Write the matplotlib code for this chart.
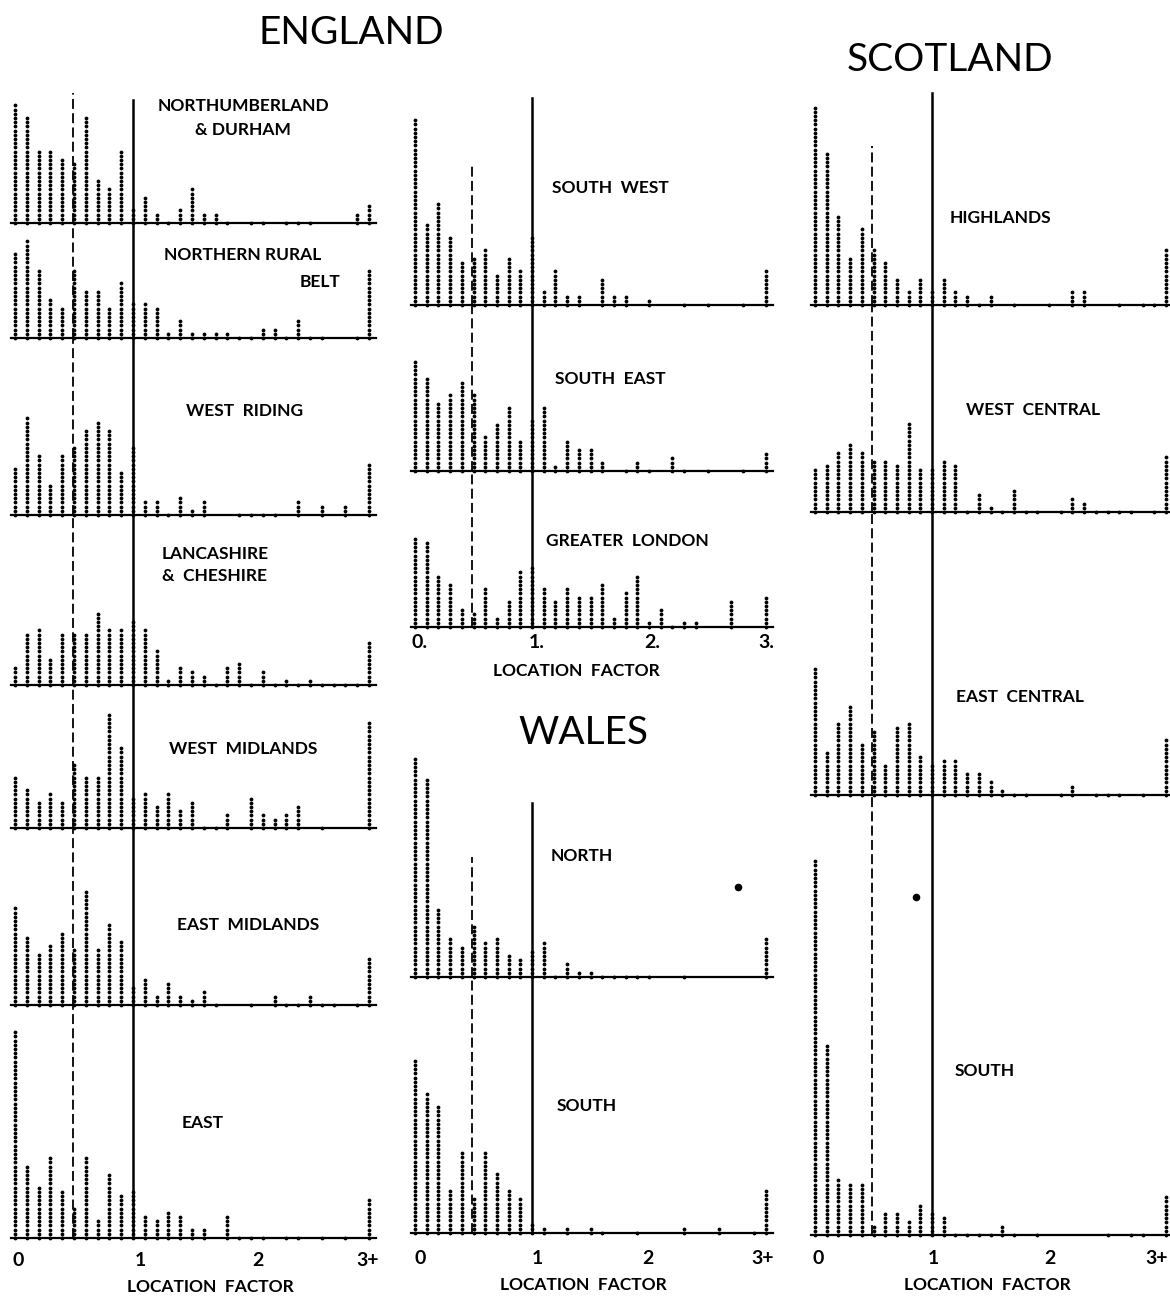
import matplotlib
matplotlib.use("Agg")
import matplotlib.pyplot as plt

# ---- dot counts per location-factor bin: 0.0, 0.1, ... 2.9, then 3+ ----
northumberland_durham = [29, 26, 18, 18, 16, 15, 26, 11, 9, 18, 4, 7, 3, 1, 4, 9, 3, 3, 1, 0,
                         1, 1, 0, 1, 1, 1, 0, 0, 0, 3, 5]
northern_rural_belt = [21, 24, 17, 10, 8, 17, 12, 12, 8, 14, 9, 9, 8, 2, 5, 2, 2, 2, 2, 1,
                       1, 3, 3, 1, 5, 1, 1, 0, 0, 1, 17]
west_riding = [12, 24, 15, 8, 15, 17, 21, 23, 21, 11, 17, 4, 4, 1, 5, 2, 4, 0, 0, 1,
               1, 1, 1, 0, 4, 0, 3, 0, 3, 0, 13]
lancs_cheshire = [5, 13, 14, 7, 13, 13, 13, 18, 14, 14, 16, 14, 9, 2, 5, 4, 3, 1, 5, 6,
                  1, 4, 1, 2, 1, 2, 1, 1, 1, 1, 11]
west_midlands = [13, 10, 7, 9, 7, 16, 13, 13, 28, 20, 8, 9, 6, 9, 5, 7, 1, 1, 4, 0,
                 8, 4, 3, 4, 6, 0, 1, 0, 0, 0, 26]
east_midlands = [24, 17, 13, 15, 18, 14, 28, 14, 20, 16, 5, 7, 3, 6, 3, 2, 4, 1, 0, 0,
                 1, 0, 3, 1, 1, 3, 1, 1, 0, 1, 12]
east = [50, 18, 13, 20, 12, 8, 20, 5, 16, 11, 12, 6, 5, 7, 6, 3, 3, 0, 6, 1,
        1, 1, 0, 1, 1, 0, 1, 0, 1, 0, 10]

south_west = [45, 20, 25, 17, 11, 12, 14, 8, 12, 9, 17, 4, 9, 3, 3, 0, 7, 3, 3, 0,
              2, 0, 0, 1, 0, 1, 0, 0, 1, 0, 9]
south_east = [27, 23, 17, 19, 22, 19, 9, 12, 16, 8, 13, 16, 2, 8, 6, 6, 3, 0, 1, 3,
              1, 0, 4, 1, 0, 1, 0, 0, 1, 0, 5]
greater_london = [22, 21, 13, 11, 5, 4, 10, 3, 7, 14, 15, 10, 7, 10, 8, 8, 11, 3, 9, 13,
                  2, 5, 1, 2, 2, 0, 0, 7, 0, 0, 8]

wales_north = [53, 48, 17, 10, 8, 13, 9, 10, 6, 5, 7, 9, 1, 4, 2, 2, 1, 1, 1, 1,
               1, 0, 0, 1, 0, 0, 0, 0, 0, 0, 10]
wales_south = [42, 34, 31, 11, 20, 9, 20, 15, 11, 9, 3, 2, 0, 2, 0, 2, 1, 0, 0, 1,
               0, 0, 0, 2, 0, 0, 2, 0, 0, 1, 11]

highlands = [48, 37, 22, 12, 19, 14, 11, 7, 4, 7, 4, 7, 4, 3, 1, 3, 0, 1, 0, 0,
             1, 0, 4, 4, 0, 0, 1, 0, 1, 1, 14]
west_central = [11, 12, 15, 17, 15, 13, 13, 12, 22, 11, 11, 13, 12, 1, 5, 2, 1, 6, 1, 1,
                0, 1, 4, 3, 1, 1, 1, 1, 0, 1, 14]
east_central = [31, 11, 18, 22, 13, 16, 8, 17, 18, 10, 8, 9, 9, 6, 6, 4, 2, 1, 1, 0,
                0, 1, 3, 0, 1, 1, 1, 0, 1, 0, 14]
scot_south = [90, 46, 14, 13, 13, 3, 6, 6, 4, 8, 6, 5, 1, 1, 1, 1, 3, 1, 0, 1,
              0, 0, 0, 0, 0, 1, 0, 1, 1, 0, 10]

# stray ink blots in the printed figure: (location factor, height in dots)
wales_north_blot = (2.76, 21.4)
scot_south_blot = (0.865, 80.5)

bins = [i / 10 for i in range(30)] + [3.0]

W, H = 1170, 1297
PITCH = 4.2          # px between stacked dots
FONT = "Lato"

fig = plt.figure(figsize=(W / 100, H / 100), dpi=100)
fig.patch.set_facecolor("white")


def ftext(x, y, s, **kw):
    kw.setdefault("family", FONT)
    kw.setdefault("ha", "center")
    kw.setdefault("va", "center")
    fig.text(x / W, 1 - y / H, s, **kw)


def panel(counts, x0, ppu, y_base, y_top, solid_top=None, dash_top=None):
    xmin, xmax = -0.03, 3.06
    ax = fig.add_axes([(x0 + xmin * ppu) / W, 1 - y_base / H,
                       (xmax - xmin) * ppu / W, (y_base - y_top) / H])
    ax.set_xlim(xmin, xmax)
    ax.set_ylim(0, (y_base - y_top) / PITCH)
    ax.axis("off")
    s_top = (y_base - (solid_top if solid_top else y_top)) / PITCH
    d_top = (y_base - (dash_top if dash_top else y_top)) / PITCH
    ax.plot([1.0, 1.0], [0, s_top], color="black", lw=1.8, clip_on=False)
    ax.plot([0.49, 0.49], [0, d_top], color="black", lw=1.3,
            dashes=(5.5, 2.4), clip_on=False)
    ax.plot([xmin, xmax], [0, 0], color="black", lw=1.6, clip_on=False)
    xs, ys = [], []
    for b, n in zip(bins, counts):
        xs += [b] * n
        ys += list(range(n))
    ax.scatter(xs, ys, s=7.5, c="black", linewidths=0, clip_on=False, zorder=3)
    return ax


# ---- England ----
E = (15, 118)
panel(northumberland_durham, *E, 223, 93, solid_top=100, dash_top=93)
panel(northern_rural_belt, *E, 338, 223)
panel(west_riding, *E, 515, 338)
panel(lancs_cheshire, *E, 685, 515)
panel(west_midlands, *E, 828, 685)
panel(east_midlands, *E, 1005, 828)
panel(east, *E, 1238, 1005)

# ---- South of England (middle column) ----
M = (415, 117)
panel(south_west, *M, 305, 98, solid_top=98, dash_top=164)
panel(south_east, *M, 471, 305)
panel(greater_london, *M, 627, 471)

# ---- Wales ----
ax_wn = panel(wales_north, *M, 977, 803, solid_top=803, dash_top=857)
ax_wn.scatter(*wales_north_blot, s=30, c="black", linewidths=0, clip_on=False)
panel(wales_south, *M, 1233, 977)

# ---- Scotland ----
S = (815, 117)
panel(highlands, *S, 305, 93, solid_top=93, dash_top=146)
panel(west_central, *S, 512, 305)
panel(east_central, *S, 795, 512)
ax_ss = panel(scot_south, *S, 1235, 795)
ax_ss.scatter(*scot_south_blot, s=30, c="black", linewidths=0, clip_on=False)

# ---- titles ----
ftext(351, 33, "ENGLAND", fontsize=28)
ftext(950, 60, "SCOTLAND", fontsize=28)
ftext(583, 733, "WALES", fontsize=28)

lab = dict(fontsize=12.5, weight="bold")
ftext(243, 118, "NORTHUMBERLAND\n& DURHAM", linespacing=1.6, **lab)
ftext(243, 255, "NORTHERN RURAL", **lab)
ftext(340, 282, "BELT", ha="right", **lab)
ftext(245, 411, "WEST  RIDING", **lab)
ftext(162, 565, "LANCASHIRE\n&  CHESHIRE", ha="left", linespacing=1.5, **lab)
ftext(243, 749, "WEST  MIDLANDS", **lab)
ftext(248, 925, "EAST  MIDLANDS", **lab)
ftext(203, 1123, "EAST", **lab)
ftext(610, 188, "SOUTH  WEST", **lab)
ftext(610, 379, "SOUTH  EAST", **lab)
ftext(627, 541, "GREATER  LONDON", **lab)
ftext(582, 856, "NORTH", **lab)
ftext(587, 1106, "SOUTH", **lab)
ftext(1000, 218, "HIGHLANDS", **lab)
ftext(1033, 410, "WEST  CENTRAL", **lab)
ftext(1020, 697, "EAST  CENTRAL", **lab)
ftext(985, 1071, "SOUTH", **lab)

# ---- axis labels ----
tk = dict(fontsize=14, weight="bold")
for x, s in zip([18, 140, 258, 368], ["0", "1", "2", "3+"]):
    ftext(x, 1260, s, **tk)
for x, s in zip([420, 537, 652, 766], ["0.", "1.", "2.", "3."]):
    ftext(x, 643, s, **tk)
for x, s in zip([420, 537, 648, 763], ["0", "1", "2", "3+"]):
    ftext(x, 1258, s, **tk)
for x, s in zip([818, 933, 1050, 1157], ["0", "1", "2", "3+"]):
    ftext(x, 1258, s, **tk)

lf = dict(fontsize=12.5, weight="bold")
ftext(210, 1287, "LOCATION  FACTOR", **lf)
ftext(576, 671, "LOCATION  FACTOR", **lf)
ftext(583, 1285, "LOCATION  FACTOR", **lf)
ftext(987, 1285, "LOCATION  FACTOR", **lf)

fig.savefig("out.png", dpi=100, facecolor="white")
